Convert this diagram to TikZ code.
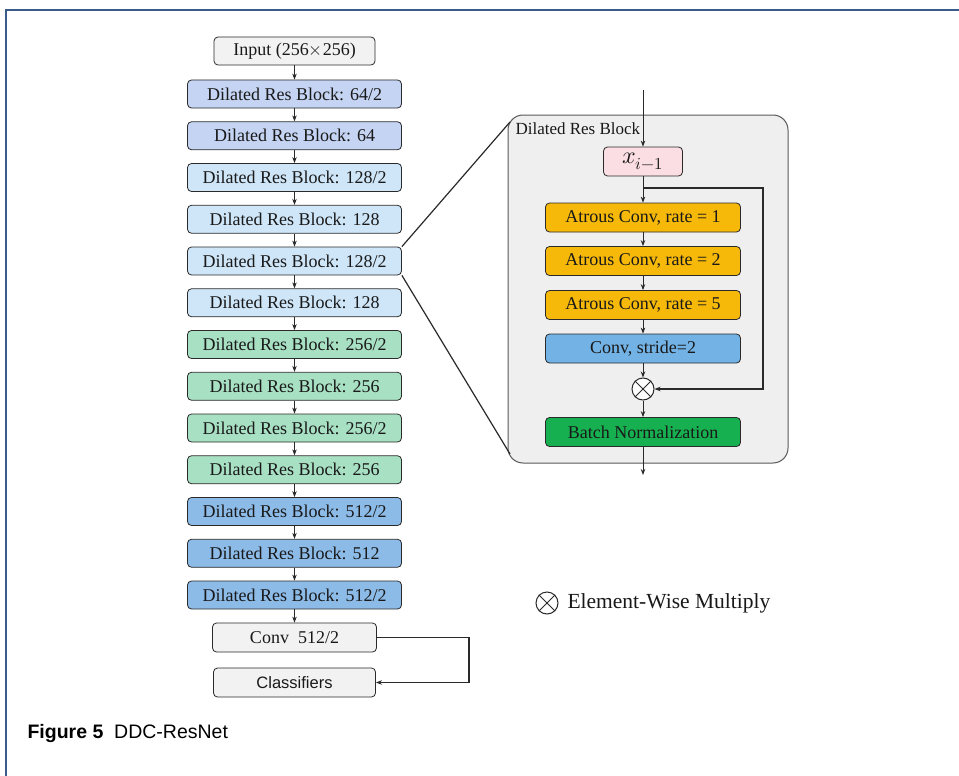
\documentclass[tikz,border=0pt]{standalone}
\usepackage{fontspec}
\usepackage{unicode-math}
\setmainfont{Liberation Serif}
\setsansfont{Liberation Sans}
\usetikzlibrary{arrows.meta,calc}
\definecolor{lav}{HTML}{C5D4F3}
\definecolor{lblue}{HTML}{CFE6F8}
\definecolor{mint}{HTML}{A8E0C3}
\definecolor{mblue}{HTML}{8DBBE8}
\definecolor{lgray}{HTML}{F2F2F2}
\definecolor{amber}{HTML}{F6B90A}
\definecolor{cblue}{HTML}{72B2E4}
\definecolor{bngreen}{HTML}{17B050}
\definecolor{pinkx}{HTML}{FBDDE4}
\definecolor{panelc}{HTML}{EFEFEF}
\definecolor{framec}{HTML}{3A5A8A}
\definecolor{linec}{HTML}{2A2A2A}
\tikzset{
  blk/.style={draw=linec, line width=0.8pt, rounded corners=4pt, minimum width=214pt, minimum height=28pt, inner sep=0pt, font=\fontsize{18}{20}\selectfont, text=black!90},
  inbox/.style={draw=linec, line width=0.8pt, rounded corners=4pt, minimum height=29pt, inner sep=0pt, font=\fontsize{18}{20}\selectfont, text=black!90},
  arr/.style={draw=linec, line width=0.8pt, -{Stealth[length=6pt,width=4.5pt]}},
  ln/.style={draw=linec, line width=0.8pt},
}
\begin{document}
\begin{tikzpicture}[x=1pt,y=-1pt]
\useasboundingbox (0,0) rectangle (959,776);
\fill[white] (0,0) rectangle (959,776);
% frame
\draw[framec, line width=1.2pt] (6,776) -- (6,10) -- (959,10);
% left column
\node[blk, fill=lgray, minimum width=161pt] (inp) at (294.5,51) {Input (256$\times$256)};
\node[blk, fill=lav] (b1) at (294.5,94) {Dilated Res Block: 64/2};
\node[blk, fill=lav] (b2) at (294.5,135.75) {Dilated Res Block: 64};
\node[blk, fill=lblue] (b3) at (294.5,177.5) {Dilated Res Block: 128/2};
\node[blk, fill=lblue] (b4) at (294.5,219.25) {Dilated Res Block: 128};
\node[blk, fill=lblue] (b5) at (294.5,261) {Dilated Res Block: 128/2};
\node[blk, fill=lblue] (b6) at (294.5,302.75) {Dilated Res Block: 128};
\node[blk, fill=mint] (b7) at (294.5,344.5) {Dilated Res Block: 256/2};
\node[blk, fill=mint] (b8) at (294.5,386.25) {Dilated Res Block: 256};
\node[blk, fill=mint] (b9) at (294.5,428) {Dilated Res Block: 256/2};
\node[blk, fill=mint] (b10) at (294.5,469.75) {Dilated Res Block: 256};
\node[blk, fill=mblue] (b11) at (294.5,511.5) {Dilated Res Block: 512/2};
\node[blk, fill=mblue] (b12) at (294.5,553.25) {Dilated Res Block: 512};
\node[blk, fill=mblue] (b13) at (294.5,595) {Dilated Res Block: 512/2};
\node[blk, fill=lgray, minimum width=164pt, minimum height=29pt] (conv) at (294.5,637.5) {Conv\ \ 512/2};
\node[blk, fill=lgray, minimum width=162pt, minimum height=29pt, font=\sffamily\fontsize{16.5}{18}\selectfont] (cls) at (294.5,682.5) {Classifiers};
\draw[arr] (inp) -- (b1);
\foreach \a/\b in {b1/b2,b2/b3,b3/b4,b4/b5,b5/b6,b6/b7,b7/b8,b8/b9,b9/b10,b10/b11,b11/b12,b12/b13,b13/conv}
  \draw[arr] (\a) -- (\b);
\coordinate (fb) at (469,637.5);
\draw[arr, line width=1.2pt] (conv.east) -- (fb) |- (cls.east);
% panel
\node[draw=black!65, line width=1pt, fill=panelc, rounded corners=15pt, minimum width=280pt, minimum height=348pt, inner sep=0pt] (panel) at (648,289) {};
\node[anchor=west, font=\fontsize{17}{19}\selectfont, text=black!90] (plab) at (512,129) {Dilated Res Block};
\coordinate (zt) at (510,122);
\coordinate (zb) at (510,454);
\draw[linec, line width=1.2pt] (b5.north east) -- (zt);
\draw[linec, line width=1.2pt] (b5.south east) -- (zb);
% inner
\node[inbox, fill=pinkx, minimum width=79pt, font=\fontsize{24}{26}\selectfont] (x) at (643,161.5) {$x_{i-1}$};
\node[inbox, fill=amber, minimum width=195pt] (a1) at (643,217.5) {Atrous Conv, rate = 1};
\node[inbox, fill=amber, minimum width=195pt] (a2) at (643,261) {Atrous Conv, rate = 2};
\node[inbox, fill=amber, minimum width=195pt] (a3) at (643,305) {Atrous Conv, rate = 5};
\node[inbox, fill=cblue, minimum width=195pt] (cs) at (643,348.5) {Conv, stride=2};
\node[circle, draw=linec, line width=1pt, fill=white, minimum size=22pt, inner sep=0pt] (m) at (643,389) {};
\draw[linec, line width=1pt] (m.north west) -- (m.south east) (m.north east) -- (m.south west);
\node[inbox, fill=bngreen, minimum width=195pt] (bn) at (643,432) {Batch Normalization};
\coordinate (tin) at (643,90);
\coordinate (tout) at (643,475);
\coordinate (sk) at (643,188);
\coordinate (skr) at (763,188);
\draw[arr] (tin) -- (x);
\draw[arr] (x) -- (a1);
\draw[arr] (a1) -- (a2);
\draw[arr] (a2) -- (a3);
\draw[arr] (a3) -- (cs);
\draw[arr] (cs) -- (m);
\draw[arr] (m) -- (bn);
\draw[arr] (bn) -- (tout);
\draw[arr, line width=1.2pt] (sk) -- (skr) |- (m.east);
% legend
\node[circle, draw=linec, line width=1pt, minimum size=22pt, inner sep=0pt] (lm) at (547,603) {};
\draw[linec, line width=1pt] (lm.north west) -- (lm.south east) (lm.north east) -- (lm.south west);
\node[anchor=west, font=\fontsize{21.5}{24}\selectfont, text=black!90] (ltxt) at (564,603) {Element-Wise Multiply};
% caption
\node[anchor=base west, font=\sffamily\fontsize{19.5}{22}\selectfont] (cap) at (24,738) {\textbf{Figure 5}\ \ DDC-ResNet};
\end{tikzpicture}
\end{document}
